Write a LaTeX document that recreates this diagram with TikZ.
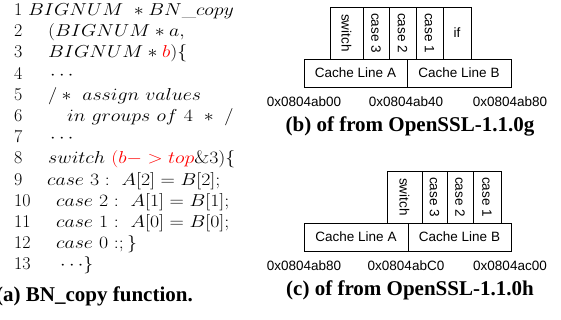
\documentclass[tikz,border=0pt]{standalone}
\usepackage{fontspec}
\newfontfamily\boxfont{Liberation Sans}
\newfontfamily\capfont{Liberation Serif}
% one line of the listing, set as math and widened a little
\newcommand\codeline[1]{\scalebox{1.15}[1]{$#1$}}
\begin{document}
\begin{tikzpicture}[x=1pt,y=-1pt,
  code/.style={anchor=base west,inner sep=0pt,text height=11pt,text depth=3pt,
    font=\fontsize{18}{21}\selectfont},
  lno/.style={code},
  cell/.style={draw,line width=0.9pt},
  lbl/.style={font=\boxfont\fontsize{13.5}{15}\selectfont,inner sep=0pt},
  addr/.style={anchor=base,font=\boxfont\fontsize{13.5}{15}\selectfont,inner sep=0pt},
  capstyle/.style={anchor=base,font=\capfont\bfseries\fontsize{21}{24}\selectfont,inner sep=0pt}]
\useasboundingbox (0,0) rectangle (561,320);

% --- (a) source listing of BN_copy ---
\foreach \n [count=\k from 0] in {1,...,13}
  \node[lno] (n\n) at (14,{15.5+\k*21.2}) {\n};
\node[code] (c1)  at (28,15.5)  {\codeline{BIGNUM\ * BN\_copy}};
\node[code] (c2)  at (48,36.7)  {\codeline{(BIGNUM * a,}};
\node[code] (c3)  at (48,57.9)  {\codeline{BIGNUM * \textcolor{red}{b})\{}};
\node[code] (c4)  at (50,79.1)  {\codeline{\cdots}};
\node[code] (c5)  at (48,100.3) {\codeline{/\ast\ assign\ values}};
\node[code] (c6)  at (67,121.5) {\codeline{in\ groups\ of\ 4\ \ast\ /}};
\node[code] (c7)  at (50,142.7) {\codeline{\cdots}};
\node[code] (c8)  at (48,163.9) {\codeline{switch\ \textcolor{red}{(b->top}\&3)\{}};
\node[code] (c9)  at (47,185.1) {\codeline{case\ 3:\ A[2]=B[2];}};
\node[code] (c10) at (56,206.3) {\codeline{case\ 2:\ A[1]=B[1];}};
\node[code] (c11) at (56,227.5) {\codeline{case\ 1:\ A[0]=B[0];}};
\node[code] (c12) at (56,248.7) {\codeline{case\ 0:;\}}};
\node[code] (c13) at (60,269.9) {\codeline{\cdots\}}};
\node[capstyle,anchor=base east] (capa) at (193,301) {(a) BN\_copy function.};

% --- (b) layout in OpenSSL-1.1.0g ---
\draw[cell] (330,7) rectangle node[lbl,rotate=-90] (bsw) {switch} (363,59);
\draw[cell] (363,7) rectangle node[lbl,rotate=-90] (bc3) {case 3} (389,59);
\draw[cell] (389,7) rectangle node[lbl,rotate=-90] (bc2) {case 2} (416,59);
\draw[cell] (416,7) rectangle node[lbl,rotate=-90] (bc1) {case 1} (443,59);
\draw[cell] (443,7) rectangle node[lbl] (bif) {if} (471,59);
\draw[cell] (304,59) rectangle node[lbl] (bla) {Cache Line A} (407,87);
\draw[cell] (407,59) rectangle node[lbl] (blb) {Cache Line B} (511,87);
\node[addr] (ba0) at (304,107) {0x0804ab00};
\node[addr] (ba1) at (406,107) {0x0804ab40};
\node[addr] (ba2) at (510,107) {0x0804ab80};
\node[capstyle] (capb) at (410,131.5) {(b) of from OpenSSL-1.1.0g};

% --- (c) layout in OpenSSL-1.1.0h ---
\draw[cell] (387,171) rectangle node[lbl,rotate=-90] (csw) {switch} (422,223);
\draw[cell] (422,171) rectangle node[lbl,rotate=-90] (cc3) {case 3} (447,223);
\draw[cell] (447,171) rectangle node[lbl,rotate=-90] (cc2) {case 2} (473,223);
\draw[cell] (473,171) rectangle node[lbl,rotate=-90] (cc1) {case 1} (501,223);
\draw[cell] (304,223) rectangle node[lbl] (cla) {Cache Line A} (408,251);
\draw[cell] (408,223) rectangle node[lbl] (clb) {Cache Line B} (511,251);
\node[addr] (ca0) at (304,270.7) {0x0804ab80};
\node[addr] (ca1) at (406,270.7) {0x0804abC0};
\node[addr] (ca2) at (510,270.7) {0x0804ac00};
\node[capstyle] (capc) at (410,295) {(c) of from OpenSSL-1.1.0h};
\end{tikzpicture}
\end{document}
